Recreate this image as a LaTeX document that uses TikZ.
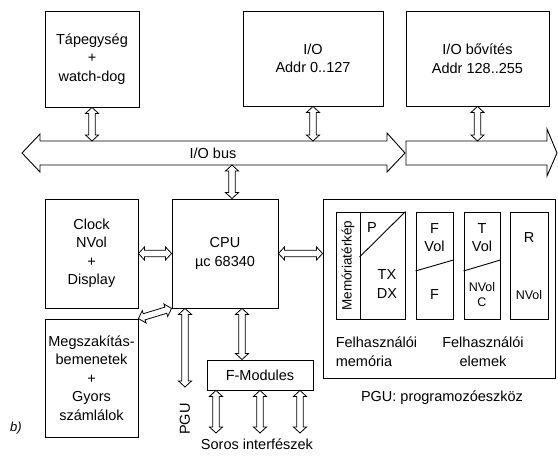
\documentclass[tikz,border=0pt]{standalone}
\usepackage{fontspec}
\setmainfont{Liberation Sans}
\usetikzlibrary{calc}

\begin{document}
\begin{tikzpicture}[x=1pt,y=-1pt,line width=0.9pt,
  font=\fontsize{14.5}{18.5}\selectfont,
  every node/.style={align=center},
  blk/.style={draw,inner sep=0pt},
  small/.style={font=\fontsize{12.5}{15}\selectfont},
  link/.style={draw,line width=0.8pt,to path={
    ($(\tikztostart)!6pt!(\tikztotarget)$) coordinate (ls)
    ($(\tikztotarget)!6pt!(\tikztostart)$) coordinate (lt)
    (\tikztostart) -- ($(ls)!6.5pt!90:(lt)$) -- ($(ls)!3.2pt!90:(lt)$)
    -- ($(lt)!3.2pt!-90:(ls)$) -- ($(lt)!6.5pt!-90:(ls)$) -- (\tikztotarget)
    -- ($(lt)!6.5pt!90:(ls)$) -- ($(lt)!3.2pt!90:(ls)$)
    -- ($(ls)!3.2pt!-90:(lt)$) -- ($(ls)!6.5pt!-90:(lt)$) -- cycle}}]
  \useasboundingbox (0,0) rectangle (558,457);
  % upper row
  \node[blk,minimum width=94,minimum height=96] (psu) at (92,59) {Tápegység\\+\\watch-dog};
  \node[blk,minimum width=140,minimum height=95] (io) at (313,58.5) {I/O\\Addr 0..127};
  \node[blk,minimum width=143,minimum height=95] (iox) at (477.5,58.5) {I/O bővítés\\Addr 128..255};
  % the bus
  \draw (22,153) -- (40,134) -- (40,141) -- (387,141) -- (387,133) -- (405,153)
    -- (387,172) -- (387,165) -- (40,165) -- (40,172) -- cycle;
  \draw (406,141) -- (547,141) -- (547,129) -- (557,153) -- (547,176)
    -- (547,165) -- (406,165) -- cycle;
  \node (bus) at (213,153) {I/O bus};
  \coordinate (busN) at (0,141);
  \coordinate (busS) at (0,165);
  \draw[link] (psu.south) to (psu.south |- busN);
  \draw[link] (io.south) to (io.south |- busN);
  \draw[link] (iox.south) to (iox.south |- busN);
  % middle row
  \node[blk,minimum width=93,minimum height=109] (clk) at (91.5,253.5) {Clock\\NVol\\+\\Display};
  \node[blk,minimum width=106,minimum height=109] (cpu) at (225,253.5) {CPU\\µc 68340};
  \node[blk,minimum width=93,minimum height=118] (irq) at (91.5,378) {Megszakítás-\\bemenetek\\+\\Gyors\\számlálok};
  \node[blk,minimum width=232,minimum height=179] (pgu) at (439,288.5) {};
  \draw[link] (cpu.north -| 232,0) to (busS -| 232,0);
  \draw[link] (clk.east) to (cpu.west);
  \draw[link] (cpu.east) to (pgu.west |- cpu.east);
  \draw[link] (irq.north east) to (cpu.south west);
  % PGU and F-Modules
  \node[rotate=90,anchor=east,inner sep=0pt,xshift=-16pt] (pgulbl) at (185,387) {PGU};
  \draw[link] (cpu.south -| 185,0) to (185,387);
  \node[blk,minimum width=106,minimum height=30] (fmod) at (260,375) {F-Modules};
  \draw[link] (cpu.south -| 242,0) to (fmod.north -| 242,0);
  \node[anchor=north,inner ysep=5pt] (soros) at (257,433) {Soros interfészek};
  \foreach \x in {216,260,300}
    \draw[link] (fmod.south -| \x,0) to (soros.north -| \x,0);
  % inside the PGU
  \node[blk,minimum width=69,minimum height=107] (mem) at (370.5,265.5) {};
  \draw (mem.north -| 360,0) -- (mem.south -| 360,0);
  \draw (mem.west |- 0,257) ++(24,0) -- (mem.north east);
  \node[rotate=90,font=\fontsize{13.5}{15}\selectfont] (memlbl) at (348,265.5) {Memóriatérkép};
  \node (p) at (372,228) {P};
  \node (txdx) at (387,284) {TX\\DX};
  \node[blk,minimum width=37,minimum height=107] (fbox) at (434.5,265.5) {};
  \draw (fbox.west |- 0,271) -- (fbox.east |- 0,260);
  \node (fvol) at (434.5,237.5) {F\\Vol};
  \node (f) at (434.5,295) {F};
  \node[blk,minimum width=36,minimum height=107] (tbox) at (482,265.5) {};
  \draw (tbox.west |- 0,271) -- (tbox.east |- 0,260);
  \node (tvol) at (482,237.5) {T\\Vol};
  \node[small] (nvolc) at (482,295) {NVol\\C};
  \node[blk,minimum width=38,minimum height=107] (rbox) at (529,265.5) {};
  \node (r) at (529,238) {R};
  \node[small] (nvol) at (529,295) {NVol};
  \node[anchor=west,align=left] (umem) at (332,351.5) {Felhasználói\\memória};
  \node (uelem) at (483,351.5) {Felhasználói\\elemek};
  \node (pgutxt) at (442,398) {PGU: programozóeszköz};
  \node[font=\fontsize{13}{15}\selectfont\itshape] (b) at (16,428) {b)};
\end{tikzpicture}
\end{document}
